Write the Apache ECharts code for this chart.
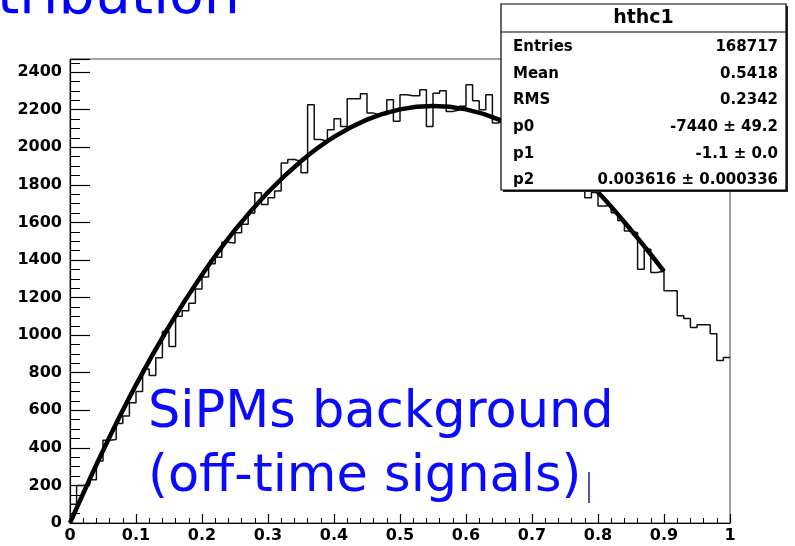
<!DOCTYPE html>
<html>
<head>
<meta charset="utf-8">
<script src="https://cdn.jsdelivr.net/npm/echarts@6/dist/echarts.min.js"></script>
<style>html,body{margin:0;padding:0;background:#fff;}#c{width:795px;height:546px;}</style>
</head>
<body>
<div id="c"></div>
<script>
// Histogram bin contents (100 bins from 0 to 1)
const binLow = 0, binWidth = 0.01;
const counts = [
  100,200,205,230,330,440,445,530,570,640,
  700,820,785,880,1020,940,1100,1130,1170,1245,
  1310,1380,1415,1495,1490,1545,1590,1650,1758,1696,
  1731,1767,1917,1935,1926,1864,2226,2041,2032,2094,
  2152,2111,2258,2258,2285,2182,2173,2173,2253,2138,
  2280,2274,2274,2306,2111,2288,2301,2191,2200,2218,
  2333,2248,2200,2280,2129,2140,2110,2120,2070,2080,
  2030,2010,1990,1960,1950,1900,1870,1820,1731,1760,
  1687,1690,1652,1610,1554,1545,1351,1457,1333,1342,
  1236,1236,1103,1088,1041,1056,1056,1008,865,881
];
// Fit curve samples
const fitX = [0,0.05,0.1,0.15,0.2,0.25,0.3,0.35,0.4,0.45,0.5,0.55,0.6,0.65,0.7,0.75,0.8,0.85,0.9];
const fitY = [0,385,735,1046,1321,1560,1761,1926,2055,2147,2202,2220,2202,2147,2055,1926,1761,1560,1340];
// Stats box
const statTitle = 'hthc1';
const statLabels = ['Entries','Mean','RMS','p0','p1','p2'];
const statValues = ['168717','0.5418','0.2342','-7440 \u00b1 49.2','-1.1 \u00b1 0.0','0.003616 \u00b1 0.000336'];
const titleText = 'Distribution';
const noteLines = ['SiPMs background','(off-time signals)'];

const histData = counts.map((v,i)=>[binLow + i*binWidth, v]);
histData.push([binLow + counts.length*binWidth, counts[counts.length-1]]);
const fitData = fitX.map((x,i)=>[x, fitY[i]]);

const chart = echarts.init(document.getElementById('c'), null, {renderer:'canvas'});
const lab = {fontFamily:'DejaVu Sans', fontWeight:'bold', fontSize:16, color:'#000'};

const graphics = [];
// stats box
const bx=501, by=4, bw=285, bh=186;
graphics.push({type:'rect', z:100, shape:{x:bx+2,y:by+2,width:bw,height:bh}, style:{fill:'#222'}});
graphics.push({type:'rect', z:101, shape:{x:bx,y:by,width:bw,height:bh}, style:{fill:'#fff', stroke:'#000', lineWidth:1.2}});
graphics.push({type:'line', z:102, shape:{x1:bx,y1:32,x2:bx+bw,y2:32}, style:{stroke:'#000', lineWidth:1.2}});
graphics.push({type:'text', z:103, style:{x:bx+bw/2, y:18, text:statTitle, align:'center', verticalAlign:'middle', font:'bold 19px "DejaVu Sans"', fill:'#000'}});
statLabels.forEach((t,i)=>{
  const y = 47 + i*26.7;
  graphics.push({type:'text', z:103, style:{x:513, y:y, text:t, align:'left', verticalAlign:'middle', font:'bold 15px "DejaVu Sans"', fill:'#000'}});
  graphics.push({type:'text', z:103, style:{x:778, y:y, text:statValues[i], align:'right', verticalAlign:'middle', font:'bold 15px "DejaVu Sans"', fill:'#000'}});
});
// title (cut at top)
graphics.push({type:'text', z:110, style:{x:240, y:-2, text:titleText, align:'right', verticalAlign:'middle', font:'57px "DejaVu Sans"', fill:'#0000ff'}});
// note lines
graphics.push({type:'text', z:110, style:{x:148, y:414, text:noteLines[0], align:'left', verticalAlign:'middle', font:'51px "DejaVu Sans"', fill:'#0a0aff'}});
graphics.push({type:'text', z:110, style:{x:148, y:478, text:noteLines[1], align:'left', verticalAlign:'middle', font:'51px "DejaVu Sans"', fill:'#0a0aff'}});
graphics.push({type:'line', z:110, shape:{x1:589,y1:472,x2:589,y2:503}, style:{stroke:'#1a1a9a', lineWidth:1.5}});

chart.setOption({
  animation:false,
  backgroundColor:'#fff',
  grid:{left:70, right:65, top:59, bottom:23, show:true, borderColor:'#444', borderWidth:1, backgroundColor:'transparent'},
  xAxis:{type:'value', min:0, max:1, interval:0.1,
    axisLine:{show:true, onZero:false, lineStyle:{color:'#000', width:1.2}},
    axisTick:{show:true, inside:true, length:9, lineStyle:{color:'#000', width:1.2}},
    minorTick:{show:true, splitNumber:5, length:5, lineStyle:{color:'#000', width:1}},
    axisLabel:{...lab, margin:5},
    splitLine:{show:false}},
  yAxis:{type:'value', min:0, max:2470, interval:200,
    axisLine:{show:true, onZero:false, lineStyle:{color:'#000', width:1.2}},
    axisTick:{show:true, inside:true, length:20, lineStyle:{color:'#000', width:1.2}},
    minorTick:{show:true, splitNumber:4, length:10, lineStyle:{color:'#000', width:1}},
    axisLabel:{...lab, margin:8, showMaxLabel:false, formatter:(v)=> (Math.round(v)%200===0 ? String(Math.round(v)) : '')},
    splitLine:{show:false}},
  series:[
    {type:'line', data:histData, step:'end', symbol:'none', z:2,
      lineStyle:{color:'#111', width:1.5}},
    {type:'line', data:fitData, smooth:0.4, symbol:'none', z:3,
      lineStyle:{color:'#000', width:4.5}}
  ],
  graphic:graphics
});
</script>
</body>
</html>
